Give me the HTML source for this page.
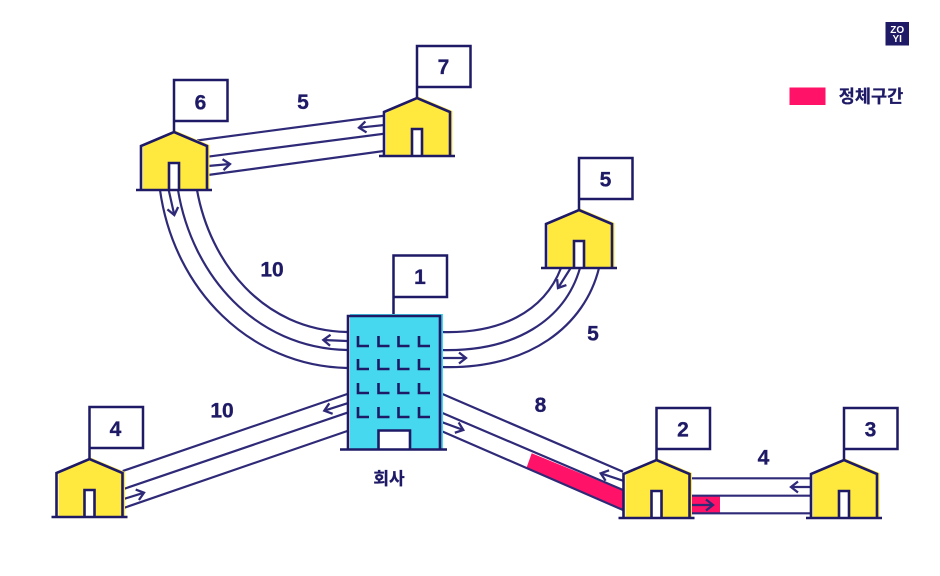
<!DOCTYPE html>
<html><head><meta charset="utf-8"><style>
html,body{margin:0;padding:0;background:#fff;width:940px;height:576px;overflow:hidden}
svg{display:block}
text{font-family:"Liberation Sans","Noto Sans CJK KR",sans-serif;font-weight:700;fill:#1e1a66;text-anchor:middle;stroke:#1e1a66;stroke-width:.3}
.r{fill:none;stroke:#2f2a78;stroke-width:2.2}
.a{fill:none;stroke:#2f2a78;stroke-width:2.2;marker-end:url(#m)}
.n{font-size:21px}
</style></head><body>
<svg width="940" height="576" viewBox="0 0 940 576" xmlns="http://www.w3.org/2000/svg">
<defs>
<marker id="m" markerUnits="userSpaceOnUse" markerWidth="20" markerHeight="20" refX="10" refY="10" orient="auto" overflow="visible"><path d="M3 4.500L10 10L3 15.500" fill="none" stroke="#2f2a78" stroke-width="2.300"/></marker>
<g id="h">
<path d="M1-1.500L35.500 13V57H-31V15Z" fill="#ffe93f"/>
<rect x="-4" y="30" width="9" height="27" fill="#fff"/>
<path d="M-33 58V14L0 0L33 14V58M-5 58V31H5V58" fill="none" stroke="#1e1a66" stroke-width="2.600"/>
<path d="M-38 58H38" stroke="#1e1a66" stroke-width="2.600"/>
<path d="M0 0V-52H53.500V-11H0" fill="#fff" stroke="#1e1a66" stroke-width="2.500"/>
</g>
</defs>

<polygon points="531.700,453.300 526.700,467.300 623.300,510 623.300,490.700" fill="#ff1267"/>
<rect x="690" y="496" width="30" height="17.500" fill="#ff1267"/>

<path class="r" d="M384 115.700L197 140.500M384 133.700L207.700 156.700M384 151L208 175"/>
<path class="a" d="M384 125L359 127.700"/><path class="a" d="M208 166L230 164"/>

<path class="r" d="M197 190C210 262 262 330 347 332M178 190C192 275 255 348 347 350M160 190C174 290 250 366 347 368"/>
<path class="a" d="M168.700 190L174.300 215"/><path class="a" d="M347 341L323.300 340"/>

<path class="r" d="M441 332C500 334 544 312 561 268M441 350C515 352 565 320 580 268M441 367C530 370 585 325 599 268"/>
<path class="a" d="M570.700 268L558 288"/><path class="a" d="M441 358H466"/>

<path class="r" d="M122.700 471L347.300 394M122.700 489.300L347.300 412.700M122.700 508.300L347.300 431"/>
<path class="a" d="M347.300 403.300L324.300 410.700"/><path class="a" d="M122.700 499.300L144 492.700"/>

<path class="r" d="M440.700 393.300L623 471.700M440.700 412.300L623 490M440.700 430.700L623 510"/>
<path class="a" d="M440.700 421.700L463.300 430"/><path class="a" d="M623 480.700L600.700 473.300"/>

<path class="r" d="M690 478.300H811M690 495.700H811M690 513.300H811"/>
<path class="a" d="M690 505H713"/><path class="a" d="M811 487H791"/>

<use href="#h" x="174" y="132"/>
<use href="#h" x="417" y="98"/>
<use href="#h" x="579" y="210"/>
<use href="#h" x="89.500" y="459"/>
<use href="#h" x="656.500" y="460"/>
<use href="#h" x="844" y="460"/>

<!-- building -->
<path d="M393.500 315V255.500H447V297H393.500" fill="#fff" stroke="#1e1a66" stroke-width="2.500"/>
<rect x="350" y="314" width="93" height="135" fill="#45d8ee"/>
<rect x="378" y="430" width="33" height="19" fill="#fff"/>
<path d="M348 449V316H440V449M378.500 449V430.500H410V449" fill="none" stroke="#1e1a66" stroke-width="2.600"/>
<path d="M340 449.500H447" stroke="#1e1a66" stroke-width="2.600"/>
<path fill="none" stroke="#1e1a66" stroke-width="2.600" d="
M358 336V346H369M378.500 336V346H389.500M398.500 336V346H409.500M419 336V346H430
M358 359V369H369M378.500 359V369H389.500M398.500 359V369H409.500M419 359V369H430
M358 383V393H369M378.500 383V393H389.500M398.500 383V393H409.500M419 383V393H430
M358 407V417H369M378.500 407V417H389.500M398.500 407V417H409.500M419 407V417H430"/>

<text class="n" x="200.500" y="109.500">6</text>
<text class="n" x="443.500" y="74">7</text>
<text class="n" x="605.500" y="186.500">5</text>
<text class="n" x="420" y="284">1</text>
<text class="n" x="115.500" y="436">4</text>
<text class="n" x="683" y="436.500">2</text>
<text class="n" x="870.500" y="436.500">3</text>
<text class="n" x="303" y="109">5</text>
<text class="n" x="272" y="276.500">10</text>
<text class="n" x="593" y="340.500">5</text>
<text class="n" x="540.500" y="412">8</text>
<text class="n" x="222" y="417.500">10</text>
<text class="n" x="763.500" y="464.500">4</text>
<text x="389" y="484.500" font-size="17">회사</text>

<rect x="789.500" y="87.500" width="36" height="17.500" fill="#ff1267"/>
<text x="871" y="102.500" font-size="17.500">정체구간</text>

<rect x="885.500" y="22" width="23.500" height="23.500" fill="#1e1a66"/>
<text x="897.200" y="33" font-size="10" style="fill:#fff;stroke:none">ZO</text>
<text x="897.200" y="42" font-size="10" style="fill:#fff;stroke:none">YI</text>
</svg>
</body></html>
